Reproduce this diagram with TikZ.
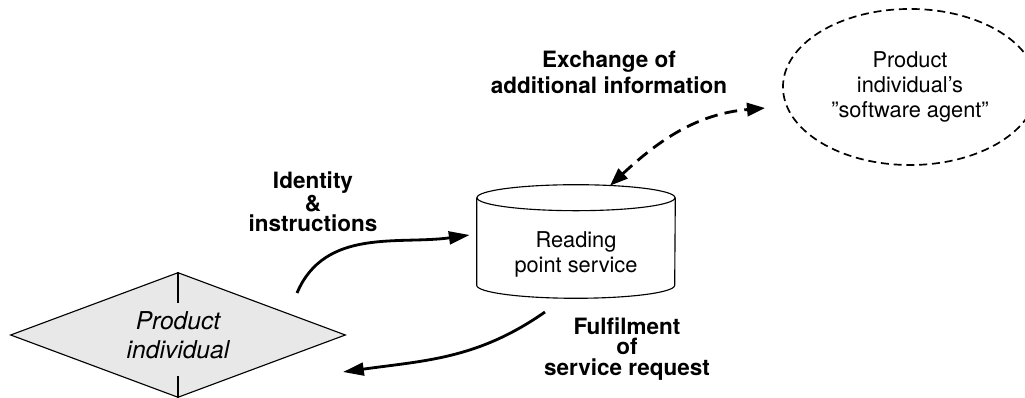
\documentclass[tikz,border=0pt]{standalone}
\usepackage{fontspec}
\setmainfont{TeX Gyre Heros}
\usetikzlibrary{shapes.geometric,arrows.meta}

\begin{document}
\begin{tikzpicture}[x=0.025cm, y=0.025cm,
    lbl/.style={font=\fontsize{16}{14.5}\selectfont\bfseries, align=center},
    txt/.style={font=\fontsize{15.5}{18}\selectfont, align=center},
    flow/.style={line width=2pt, -{Triangle[length=0.52cm,width=0.32cm]}},
    exch/.style={line width=2pt, dash pattern=on 0.32cm off 0.18cm,
        {Triangle[length=0.45cm,width=0.33cm]}-{Triangle[length=0.45cm,width=0.33cm]}}]
    \useasboundingbox (0,0) rectangle (1025,398);

    % product individual
    \node[diamond, aspect=2.68, draw, line width=0.8pt, fill=gray!18, minimum width=8.375cm, minimum height=3.125cm,
        inner sep=0pt, align=center, font=\fontsize{17.5}{21}\selectfont\itshape] (prod) at (178,63) {Product\\individual};
    \draw[line width=0.8pt] (prod.north) -- ++(0,-31);
    \draw[line width=0.8pt] (prod.south) -- ++(0,22);

    % reading point service (cylinder drawn round the node)
    \node[txt, minimum width=4.95cm, minimum height=2.175cm, inner sep=0pt] (reading) at (576,143.5) {Reading\\point service};
    \draw[line width=0.8pt] ([shift={(0,13)}]reading.north west) -- ([shift={(0,13)}]reading.south west)
        arc[start angle=180, end angle=360, x radius=99, y radius=13] -- ([shift={(0,13)}]reading.north east);
    \draw[line width=0.8pt] ([shift={(0,13)}]reading.north) ellipse[x radius=99, y radius=13];

    % software agent
    \node[ellipse, draw, line width=1.2pt, dash pattern=on 0.2cm off 0.12cm, minimum width=6.35cm, minimum height=3.9cm, txt]
        (agent) at (910,311) {Product\\individual’s\\”software agent”};

    % free ends of the flows
    \coordinate (idstart) at (297,105);
    \coordinate (fulstart) at (545,86);
    \coordinate (fulend) at (343,26);

    \draw[flow] (idstart) to[out=67, in=188] ([shift={(-7,19.5)}]reading.west);
    \draw[flow] (fulstart) to[out=215, in=8] (fulend);
    \draw[exch] ([shift={(34,25)}]reading.north) to[out=43, in=185] ([shift={(-145,-21)}]agent.center);

    % labels
    \node[lbl] (idlbl) at (313,196) {Identity\\\&\\instructions};
    \node[lbl, font=\fontsize{16}{18.5}\selectfont\bfseries] (exlbl) at (609,325.5) {Exchange of\\additional information};
    \node[lbl] (fullbl) at (627,49) {Fulfilment\\of\\service request};
\end{tikzpicture}
\end{document}
